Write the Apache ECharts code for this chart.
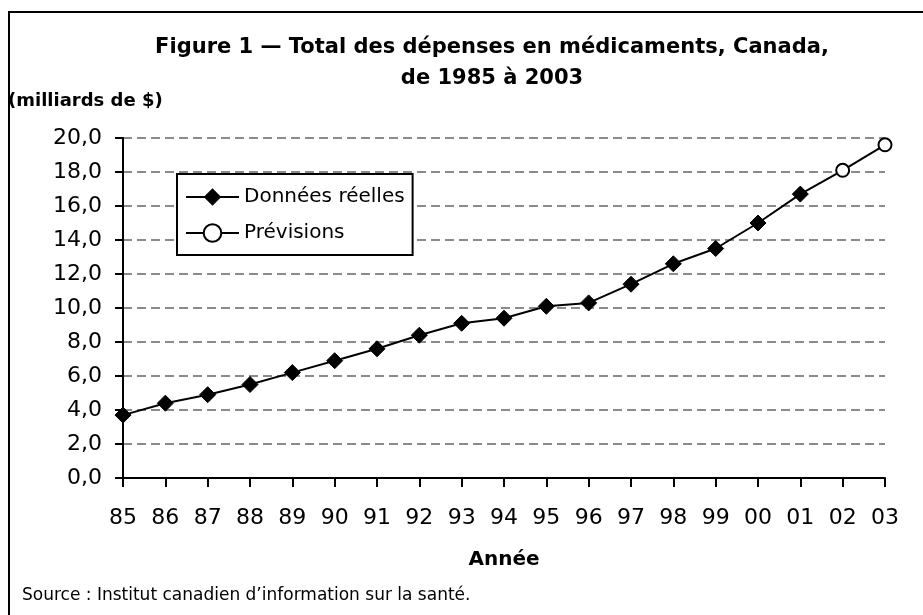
<!DOCTYPE html>
<html>
<head>
<meta charset="utf-8">
<script src="https://cdn.jsdelivr.net/npm/echarts@6/dist/echarts.min.js"></script>
<style>
    html, body { margin: 0; padding: 0; background: #fff; }
    #chart { width: 923px; height: 615px; }
</style>
</head>
<body>
<div id="chart"></div>
<script>
// années (1985 à 2003)
var years = ['85', '86', '87', '88', '89', '90', '91', '92', '93', '94', '95', '96', '97', '98', '99', '00', '01', '02', '03'];
// données réelles, milliards de $ (1985-2001)
var actual = [3.7, 4.4, 4.9, 5.5, 6.2, 6.9, 7.6, 8.4, 9.1, 9.4, 10.1, 10.3, 11.4, 12.6, 13.5, 15.0, 16.7, null, null];
// prévisions (2002-2003), relié au dernier point réel
var forecast = [null, null, null, null, null, null, null, null, null, null, null, null, null, null, null, null, 16.7, 18.1, 19.6];

var fontName = 'DejaVu Sans';

// le point de départ des prévisions n'a pas de cercle (c'est un point réel)
var forecastData = forecast.map(function (v, i) {
    if (v !== null && actual[i] !== null) {
        return { value: v, symbol: 'none' };
    }
    return v;
});

var chart = echarts.init(document.getElementById('chart'));

var option = {
    backgroundColor: '#fff',
    animation: false,
    title: [
        {
            text: 'Figure 1 — Total des dépenses en médicaments, Canada,\nde 1985 à 2003',
            left: 487,
            top: 27,
            textAlign: 'center',
            textStyle: { fontFamily: fontName, fontWeight: 'bold', fontSize: 21, lineHeight: 31, color: '#000' }
        },
        {
            text: '(milliards de $)',
            left: 3,
            top: 87,
            textStyle: { fontFamily: fontName, fontWeight: 'bold', fontSize: 18, color: '#000' }
        },
        {
            text: 'Source : Institut canadien d\u2019information sur la santé.',
            left: 17,
            top: 582,
            textStyle: { fontFamily: fontName, fontWeight: 'normal', fontSize: 17, color: '#000' }
        }
    ],
    graphic: [
        {
            type: 'rect',
            shape: { x: 9, y: 12, width: 940, height: 640 },
            style: { fill: 'none', stroke: '#000', lineWidth: 2 },
            silent: true
        }
    ],
    legend: {
        orient: 'vertical',
        left: 177,
        top: 174,
        padding: [13, 8, 12, 8],
        itemWidth: 53,
        itemHeight: 22,
        itemGap: 16,
        borderColor: '#000',
        borderWidth: 2,
        backgroundColor: '#fff',
        data: ['Données réelles', 'Prévisions'],
        textStyle: { fontFamily: fontName, fontSize: 20, color: '#000' }
    },
    grid: {
        left: 123,
        right: 38,
        top: 138,
        bottom: 137
    },
    xAxis: {
        type: 'category',
        data: years,
        boundaryGap: false,
        name: 'Année',
        nameLocation: 'middle',
        nameGap: 72,
        nameTextStyle: { fontFamily: fontName, fontWeight: 'bold', fontSize: 20, color: '#000' },
        axisLine: { lineStyle: { color: '#000', width: 2 } },
        axisTick: { show: true, alignWithLabel: true, length: 9, lineStyle: { color: '#000', width: 2 } },
        axisLabel: { fontFamily: fontName, fontSize: 22, color: '#000', margin: 29 },
        splitLine: { show: false }
    },
    yAxis: {
        type: 'value',
        min: 0,
        max: 20,
        interval: 2,
        axisLine: { show: true, lineStyle: { color: '#000', width: 2 } },
        axisTick: { show: true, length: 8, lineStyle: { color: '#000', width: 2 } },
        axisLabel: {
            fontFamily: fontName,
            fontSize: 22,
            color: '#000',
            margin: 21,
            formatter: function (v) { return v.toFixed(1).replace('.', ','); }
        },
        splitLine: { show: true, lineStyle: { color: '#666', width: 1.5, type: [9, 5] } }
    },
    series: [
        {
            name: 'Prévisions',
            type: 'line',
            data: forecastData,
            symbol: 'circle',
            symbolSize: 13,
            showAllSymbol: true,
            lineStyle: { color: '#000', width: 2 },
            itemStyle: { color: '#fff', borderColor: '#000', borderWidth: 2 },
            z: 2
        },
        {
            name: 'Données réelles',
            type: 'line',
            data: actual,
            symbol: 'diamond',
            symbolSize: 16,
            showAllSymbol: true,
            lineStyle: { color: '#000', width: 2 },
            itemStyle: { color: '#000', borderColor: '#000' },
            z: 3
        }
    ]
};

chart.setOption(option);
</script>
</body>
</html>
